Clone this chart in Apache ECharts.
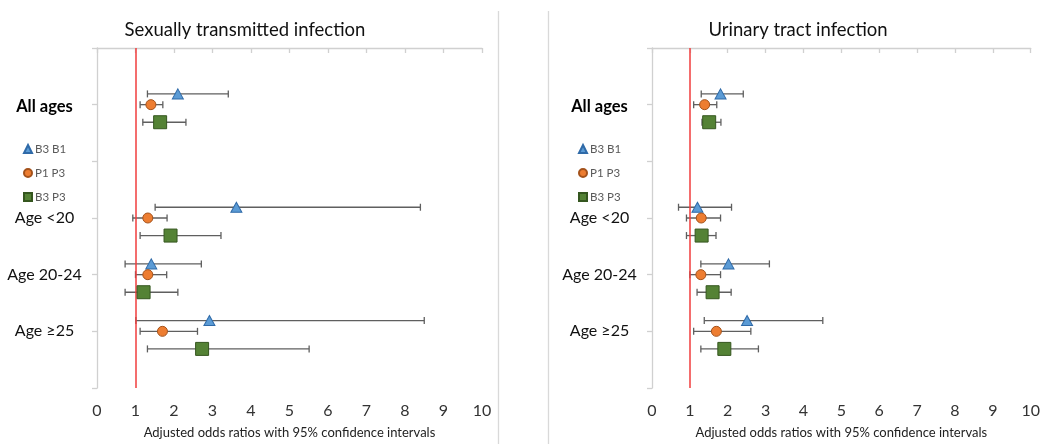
<!DOCTYPE html>
<html>
<head>
<meta charset="utf-8">
<script src="https://cdn.jsdelivr.net/npm/echarts@6/dist/echarts.min.js"></script>
<style>
html,body{margin:0;padding:0;background:#fff;}
#chart{width:1043px;height:444px;}
</style>
</head>
<body>
<div id="chart"></div>
<script>
// ---- Data ----
const panelTitles = ['Sexually transmitted infection', 'Urinary tract infection'];
const categories = ['All ages', 'Age <20', 'Age 20-24', 'Age \u226525'];
const yTickLabels = ['', 'All ages', '', 'Age <20', 'Age 20-24', 'Age \u226525', ''];
const xTicks = [0, 1, 2, 3, 4, 5, 6, 7, 8, 9, 10];
const seriesNames = ['B3 B1', 'P1 P3', 'B3 P3'];
const xAxisTitle = 'Adjusted odds ratios with 95% confidence intervals';
const referenceValue = 1;

// Sexually transmitted infection
const sti_B3B1 = [2.10, 3.62, 1.41, 2.92];
const sti_B3B1_lo = [1.31, 1.51, 0.73, 1.01];
const sti_B3B1_hi = [3.41, 8.40, 2.71, 8.50];
const sti_P1P3 = [1.40, 1.32, 1.32, 1.70];
const sti_P1P3_lo = [1.12, 0.93, 1.00, 1.12];
const sti_P1P3_hi = [1.71, 1.82, 1.81, 2.61];
const sti_B3P3 = [1.64, 1.91, 1.21, 2.73];
const sti_B3P3_lo = [1.19, 1.12, 0.73, 1.31];
const sti_B3P3_hi = [2.31, 3.22, 2.10, 5.51];

// Urinary tract infection
const uti_B3B1 = [1.81, 1.20, 2.02, 2.51];
const uti_B3B1_lo = [1.30, 0.70, 1.29, 1.38];
const uti_B3B1_hi = [2.41, 2.10, 3.10, 4.51];
const uti_P1P3 = [1.39, 1.30, 1.29, 1.70];
const uti_P1P3_lo = [1.10, 0.91, 1.00, 1.10];
const uti_P1P3_hi = [1.71, 1.81, 1.81, 2.61];
const uti_B3P3 = [1.51, 1.31, 1.60, 1.91];
const uti_B3P3_lo = [1.32, 0.91, 1.19, 1.29];
const uti_B3P3_hi = [1.82, 1.69, 2.09, 2.81];

// ---- Build ----
const FONT = 'Lato, "Open Sans", sans-serif';
const panels = [
  { est: [sti_B3B1, sti_P1P3, sti_B3P3], lo: [sti_B3B1_lo, sti_P1P3_lo, sti_B3P3_lo], hi: [sti_B3B1_hi, sti_P1P3_hi, sti_B3P3_hi] },
  { est: [uti_B3B1, uti_P1P3, uti_B3P3], lo: [uti_B3B1_lo, uti_P1P3_lo, uti_B3P3_lo], hi: [uti_B3B1_hi, uti_P1P3_hi, uti_B3P3_hi] }
];
const rowOffset = [-0.19, 0, 0.31];
const symbols = ['triangle', 'circle', 'rect'];
const symbolSizes = [[11, 10], 10, 13];
const fills = ['#5b9bd5', '#ed7d31', '#548235'];
const borders = ['#2f6aa8', '#a4521b', '#35561f'];
const grids = [
  { left: 97, right: 561, top: 48, bottom: 54 },
  { left: 652, right: 12, top: 48, bottom: 54 }
];

const catPos = categories.map(c => yTickLabels.indexOf(c));

function errorBarRender(params, api) {
  const y = api.value(2);
  const p1 = api.coord([api.value(0), y]);
  const p2 = api.coord([api.value(1), y]);
  const cap = 3.5;
  const style = { stroke: '#5f5f5f', lineWidth: 1.3, fill: null };
  return {
    type: 'group',
    children: [
      { type: 'line', shape: { x1: p1[0], y1: p1[1], x2: p2[0], y2: p2[1] }, style },
      { type: 'line', shape: { x1: p1[0], y1: p1[1] - cap, x2: p1[0], y2: p1[1] + cap }, style },
      { type: 'line', shape: { x1: p2[0], y1: p2[1] - cap, x2: p2[0], y2: p2[1] + cap }, style }
    ]
  };
}

const series = [];
const xAxes = [], yAxes = [], legends = [];
panels.forEach((pn, pi) => {
  xAxes.push({
    gridIndex: pi, type: 'value', min: xTicks[0], max: xTicks[xTicks.length - 1], interval: 1,
    axisLine: { lineStyle: { color: '#d0d0d0', width: 1.3 } },
    axisTick: { show: true, length: 5, lineStyle: { color: '#d0d0d0', width: 1.3 } },
    axisLabel: { color: '#333', fontSize: 16, fontFamily: FONT, margin: 15 },
    splitLine: { show: false },
    name: xAxisTitle, nameLocation: 'middle', nameGap: 38,
    nameTextStyle: { color: '#222', fontSize: 13, fontFamily: FONT }
  });
  yAxes.push({
    gridIndex: pi, type: 'value', inverse: true, min: 0, max: yTickLabels.length - 1, interval: 1,
    axisLine: { show: true, lineStyle: { color: '#d0d0d0', width: 1.3 } },
    axisTick: { show: true, length: 5, lineStyle: { color: '#d0d0d0', width: 1.3 } },
    splitLine: { show: false },
    axisLabel: {
      margin: 52.5, align: 'center', color: '#111', fontSize: 16, fontFamily: FONT,
      formatter: v => {
        const t = yTickLabels[Math.round(v)] || '';
        return t === 'All ages' ? '{b|' + t + '}' : t;
      },
      rich: { b: { fontWeight: 'bold', fontSize: 16.5, color: '#000', fontFamily: FONT, padding: [4, 0, 0, 0] } }
    }
  });
  legends.push({
    orient: 'vertical', left: pi === 0 ? 18 : 573, top: 138,
    itemWidth: 8, itemHeight: 8, itemGap: 12,
    data: seriesNames,
    textStyle: { color: '#595959', fontSize: 11.5, fontFamily: FONT, lineHeight: 12, padding: [0, 0, 0, -2] },
    selectedMode: false
  });
  seriesNames.forEach((nm, si) => {
    series.push({
      type: 'custom', xAxisIndex: pi, yAxisIndex: pi, renderItem: errorBarRender,
      encode: { x: [0, 1], y: 2 }, silent: true, z: 2,
      data: categories.map((c, ci) => [pn.lo[si][ci], pn.hi[si][ci], catPos[ci] + rowOffset[si]]),
      markLine: si === 0 ? {
        silent: true, symbol: 'none', label: { show: false },
        lineStyle: { color: '#f03c3c', width: 1.5, type: 'solid' },
        data: [{ xAxis: referenceValue }]
      } : undefined
    });
  });
  seriesNames.forEach((nm, si) => {
    series.push({
      name: nm, type: 'scatter', xAxisIndex: pi, yAxisIndex: pi, z: 5,
      symbol: symbols[si], symbolSize: symbolSizes[si],
      itemStyle: { color: fills[si], borderColor: borders[si], borderWidth: 1, opacity: 1 },
      data: categories.map((c, ci) => [pn.est[si][ci], catPos[ci] + rowOffset[si]])
    });
  });
});

const chart = echarts.init(document.getElementById('chart'), null, { renderer: 'canvas' });
chart.setOption({
  animation: false,
  backgroundColor: '#fff',
  grid: grids,
  xAxis: xAxes,
  yAxis: yAxes,
  legend: legends,
  series: series,
  graphic: [
    { type: 'text', x: 245, y: 30, style: { text: panelTitles[0], textAlign: 'center', textVerticalAlign: 'middle', fontSize: 18.5, fontFamily: FONT, fill: '#111' } },
    { type: 'text', x: 798, y: 30, style: { text: panelTitles[1], textAlign: 'center', textVerticalAlign: 'middle', fontSize: 18.5, fontFamily: FONT, fill: '#111' } },
    { type: 'line', shape: { x1: 498.5, y1: 11, x2: 498.5, y2: 444 }, style: { stroke: '#d9d9d9', lineWidth: 1.3 } },
    { type: 'line', shape: { x1: 548.5, y1: 11, x2: 548.5, y2: 444 }, style: { stroke: '#d9d9d9', lineWidth: 1.3 } }
  ]
});
</script>
</body>
</html>
